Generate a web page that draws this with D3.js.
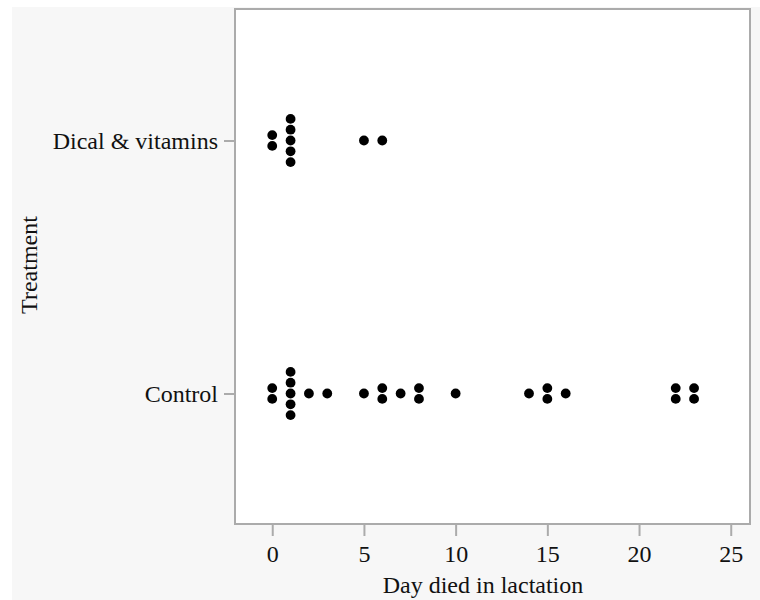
<!DOCTYPE html>
<html>
<head>
<meta charset="utf-8">
<script src="https://cdn.jsdelivr.net/npm/d3@7"></script>
<style>
  html, body { margin: 0; padding: 0; background: #ffffff; }
  svg { display: block; }
</style>
</head>
<body>
<svg id="chart" width="760" height="600"></svg>
<script>
// ---- data ----
const categories = ["Dical & vitamins", "Control"];
const dicalDays = [0, 0, 1, 1, 1, 1, 1, 5, 6];
const controlDays = [0, 0, 1, 1, 1, 1, 1, 2, 3, 5, 6, 6, 7, 8, 8, 10, 14, 15, 15, 16, 22, 22, 23, 23];
const xTicks = [0, 5, 10, 15, 20, 25];
const xTitle = "Day died in lactation";
const yTitle = "Treatment";

// ---- layout ----
const W = 760, H = 600;
const plot = { left: 235, top: 9, right: 750, bottom: 524 };
const font = "'Liberation Serif', 'Times New Roman', serif";
const fontSize = "24px";
const frameColor = "#ababab";

const svg = d3.select("#chart");

// outer gray background
svg.append("rect").attr("x", 12).attr("y", 7).attr("width", W - 12).attr("height", H - 7)
  .attr("fill", "#f7f7f7");

const x = d3.scaleLinear().domain([-2.03, 26.05]).range([plot.left, plot.right]);
const y = d3.scalePoint().domain(categories).range([14, 520]).padding(0.5);

// plot area
svg.append("rect").attr("x", plot.left).attr("y", plot.top)
  .attr("width", plot.right - plot.left).attr("height", plot.bottom - plot.top)
  .attr("fill", "#ffffff").attr("stroke", frameColor).attr("stroke-width", 2);

// x axis
const xAxis = svg.append("g").attr("transform", `translate(0,${plot.bottom + 1})`)
  .call(d3.axisBottom(x).tickValues(xTicks).tickFormat(d3.format("d")).tickSizeOuter(0).tickSizeInner(11).tickPadding(9));
xAxis.select(".domain").remove();
xAxis.selectAll(".tick line").attr("stroke", frameColor).attr("stroke-width", 2);
xAxis.selectAll(".tick text").attr("fill", "#111").style("font-family", font).style("font-size", fontSize);

// y axis
const yAxis = svg.append("g").attr("transform", `translate(${plot.left - 1},0)`)
  .call(d3.axisLeft(y).tickSizeOuter(0).tickSizeInner(10).tickPadding(6));
yAxis.select(".domain").remove();
yAxis.selectAll(".tick line").attr("stroke", frameColor).attr("stroke-width", 2);
yAxis.selectAll(".tick text").attr("fill", "#111").style("font-family", font).style("font-size", fontSize);

// titles
svg.append("text").attr("x", 483).attr("y", 593)
  .attr("text-anchor", "middle").attr("fill", "#111")
  .style("font-family", font).style("font-size", fontSize).text(xTitle);
svg.append("text").attr("transform", `translate(37,265) rotate(-90)`)
  .attr("text-anchor", "middle").attr("fill", "#111")
  .style("font-family", font).style("font-size", fontSize).text(yTitle);

// dots (stacked dot plot)
const spacing = 10.8;
function stack(days, cat) {
  const groups = d3.groups(days, d => d);
  const pts = [];
  groups.forEach(([v, arr]) => {
    const n = arr.length;
    arr.forEach((_, i) => pts.push({ v, cat, off: (i - (n - 1) / 2) * spacing }));
  });
  return pts;
}
const points = stack(dicalDays, categories[0]).concat(stack(controlDays, categories[1]));
svg.append("g").selectAll("circle").data(points).join("circle")
  .attr("cx", d => x(d.v))
  .attr("cy", d => y(d.cat) + d.off)
  .attr("r", 4.9)
  .attr("fill", "#000");
</script>
</body>
</html>
